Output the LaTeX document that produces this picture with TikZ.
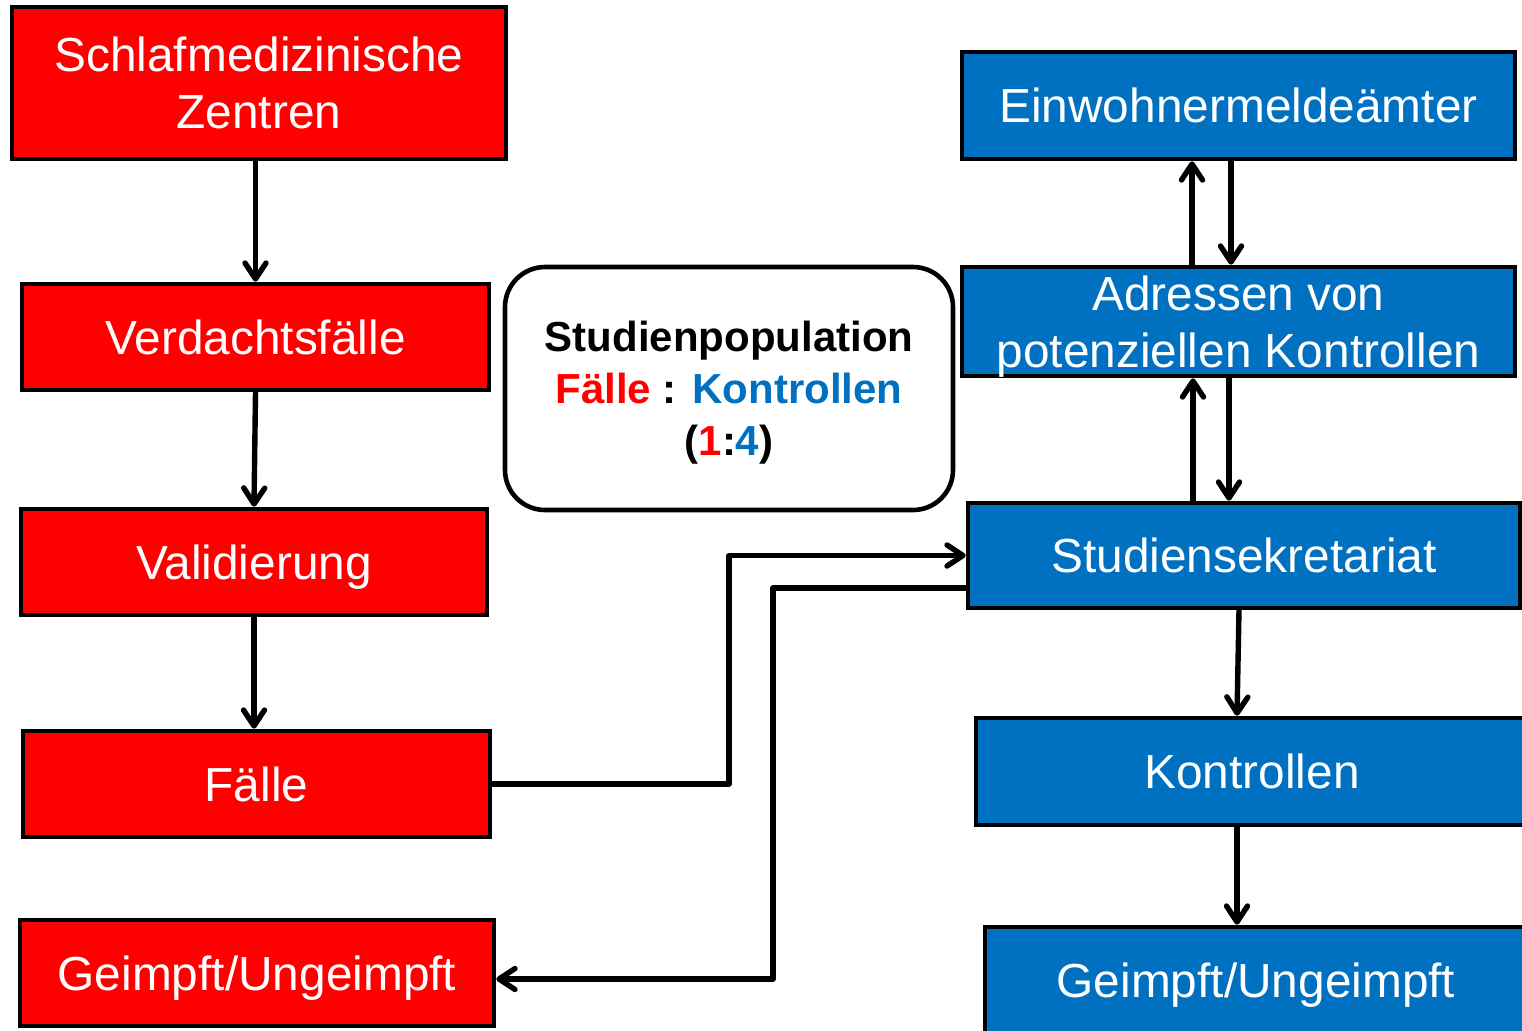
\documentclass[tikz,border=0pt]{standalone}
\usepackage{fontspec}
\setmainfont{Liberation Sans}
\usetikzlibrary{arrows.meta,calc}
\definecolor{boxred}{HTML}{FF0000}
\definecolor{boxblue}{HTML}{0070C0}
\begin{document}
\begin{tikzpicture}[x=0.5pt,y=-0.5pt,
  box/.style={draw=black,line width=2.3pt,text=white,align=center,inner sep=0pt,
    text depth=0pt,font=\fontsize{23.9}{28.5}\selectfont},
  redbox/.style={box,fill=boxred},
  bluebox/.style={box,fill=boxblue},
  arr/.style={line width=2.7pt,line cap=round,line join=round,
    -{Straight Barb[length=8pt,width=10.5pt,line cap=round,line join=round]}}]
\useasboundingbox (0,0) rectangle (1522,1030);
\clip (0,0) rectangle (1522,1030);
% left column
\node[redbox,minimum width=247pt,minimum height=76pt] (schlaf) at (259,83) {Schlafmedizinische\\Zentren};
\node[redbox,minimum width=233.5pt,minimum height=53pt] (verd) at (255.5,337) {Verdachtsfälle};
\node[redbox,minimum width=233pt,minimum height=53pt] (valid) at (254,562) {Validierung};
\node[redbox,minimum width=233.5pt,minimum height=53pt] (faelle) at (256.5,784) {Fälle};
\node[redbox,minimum width=237pt,minimum height=53pt] (geimpfL) at (257,973) {Geimpft/Ungeimpft};
% right column
\node[bluebox,minimum width=276.5pt,minimum height=53.5pt] (einw) at (1238.5,105.5) {Einwohnermeldeämter};
\node[bluebox,minimum width=276.5pt,minimum height=54.5pt] (adr) at (1238.5,321.5) {Adressen von\\potenziellen Kontrollen};
\node[bluebox,minimum width=276pt,minimum height=52.5pt] (stud) at (1244,555.5) {Studiensekretariat};
\node[bluebox,minimum width=276pt,minimum height=53.5pt] (kontr) at (1252,771.5) {Kontrollen};
\node[bluebox,minimum width=271pt,minimum height=53.5pt] (geimpfR) at (1256,980.5) {Geimpft/Ungeimpft};
% study population
\node[draw=black,line width=2.3pt,rounded corners=20pt,fill=white,
  minimum width=224pt,minimum height=121.5pt,align=center,text depth=0pt,
  font=\fontsize{21}{26}\selectfont\bfseries] (pop) at (729,388.5)
  {Studienpopulation\\\textcolor{boxred}{Fälle} : \textcolor{boxblue}{Kontrollen}\\(\textcolor{boxred}{1}:\textcolor{boxblue}{4})};
% left arrows
\draw[arr] (verd.north |- schlaf.south) -- (verd.north);
\draw[arr] (verd.south) -- (valid.north);
\draw[arr] (valid.south) -- (valid.south |- faelle.north);
% cross connectors
\coordinate (c1) at (729,0);
\coordinate (c2) at (773,0);
\coordinate (s2) at ($(stud.west)+(0,32.5)$);
\coordinate (gL) at ($(geimpfL.east)+(0,6)$);
\draw[arr] (faelle.east) -- (faelle.east -| c1) |- (stud.west);
\draw[arr] (s2) -- (s2 -| c2) |- (gL);
% right vertical arrows
\coordinate (u1) at ($(adr.north)+(-46.5,0)$);
\coordinate (d1) at ($(einw.south)+(-7.5,0)$);
\draw[arr] (u1) -- (u1 |- einw.south);
\draw[arr] (d1) -- (d1 |- adr.north);
\coordinate (u2) at ($(stud.north)+(-51,0)$);
\coordinate (d2) at ($(adr.south)+(-9.5,0)$);
\draw[arr] (u2) -- (u2 |- adr.south);
\draw[arr] (d2) -- (d2 |- stud.north);
\draw[arr] ($(stud.south)+(-5,0)$) -- ($(kontr.north)+(-15,0)$);
\coordinate (k1) at ($(kontr.south)+(-15,0)$);
\draw[arr] (k1) -- (k1 |- geimpfR.north);
\end{tikzpicture}
\end{document}
